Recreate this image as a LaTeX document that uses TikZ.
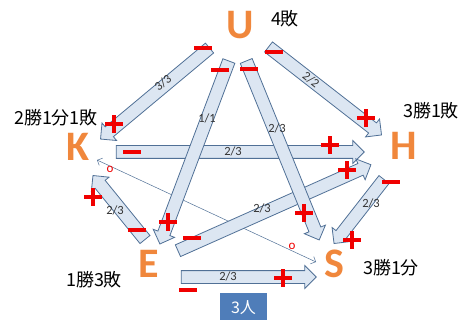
\documentclass[tikz,border=0pt]{standalone}
\usepackage{fontspec}
\setmainfont{Carlito}
\newfontfamily\jpfont{Noto Sans CJK JP}
\usetikzlibrary{shapes.arrows,calc,arrows.meta}
\definecolor{arrfill}{RGB}{220,230,242}
\definecolor{arrline}{RGB}{80,112,150}
\definecolor{letter}{RGB}{240,135,60}
\definecolor{boxblue}{RGB}{79,125,185}
\definecolor{markred}{RGB}{240,0,0}
\tikzset{
  blk/.style={single arrow, draw=arrline, fill=arrfill, line width=0.8pt,
    inner xsep=0pt, inner ysep=6pt, single arrow head extend=5pt, outer sep=0pt},
  player/.style={font=\fontsize{42}{42}\selectfont\bfseries, text=letter, inner sep=0pt},
  record/.style={font=\jpfont\fontsize{18}{18}\selectfont, inner sep=0pt},
  frac/.style={font=\fontsize{12.5}{12.5}\selectfont, text=black!80, inner sep=0pt},
  zero/.style={font=\fontsize{13}{13}\selectfont, text=markred, inner sep=0pt},
  minusmark/.pic={\fill[markred] (-9,-2) rectangle (9,2);},
  plusmark/.pic={\fill[markred] (-9,-2.4) rectangle (9,2.4); \fill[markred] (-2.4,-9) rectangle (2.4,9);}
}
\newcommand\barr[3]{%
  \path let \p1=(#2), \p2=(#3), \n1={atan2(\y2-\y1,\x2-\x1)}, \n2={veclen(\x2-\x1,\y2-\y1)} in
    node[blk, minimum height=\n2, rotate=\n1] (#1) at ($(#2)!0.5!(#3)$) {};}
\begin{document}
\begin{tikzpicture}[x=1pt,y=-1pt]
\useasboundingbox (0,0) rectangle (468,320);
% players
\node[player] (U) at (240,25) {U};
\node[player] (K) at (78,147) {K};
\node[player] (H) at (404,146) {H};
\node[player] (E) at (149,264) {E};
\node[player] (S) at (334,264) {S};
% records
\node[record] (rU) at (285,19) {4敗};
\node[record] (rK) at (56,118) {2勝1分1敗};
\node[record] (rH) at (431,111) {3勝1敗};
\node[record] (rE) at (94,280) {1勝3敗};
\node[record] (rS) at (391,268) {3勝1分};
% arrow end points
\coordinate (uk1) at (212,46);  \coordinate (uk2) at (103,137);
\coordinate (uh1) at (266,45);  \coordinate (uh2) at (379,133);
\coordinate (ue1) at (230,58);  \coordinate (ue2) at (161,241);
\coordinate (us1) at (245,58);  \coordinate (us2) at (318,237);
\coordinate (kh1) at (113,152); \coordinate (kh2) at (361,152);
\coordinate (eh1) at (175,252); \coordinate (eh2) at (368,166);
\coordinate (hs1) at (386,177); \coordinate (hs2) at (336,241);
\coordinate (ek1) at (147,242); \coordinate (ek2) at (95,178);
\coordinate (es1) at (178,277); \coordinate (es2) at (313,277);
% thin line
\coordinate (kz) at (97,160); \coordinate (sz) at (316,262);
\draw[arrline, line width=0.5pt, {Straight Barb[length=4pt]}-{Straight Barb[length=4pt]}] (kz) -- (sz);
% block arrows
\barr{KH}{kh1}{kh2}
\barr{EH}{eh1}{eh2}
\barr{UK}{uk1}{uk2}
\barr{UH}{uh1}{uh2}
\barr{UE}{ue1}{ue2}
\barr{US}{us1}{us2}
\barr{HS}{hs1}{hs2}
\barr{EK}{ek1}{ek2}
\barr{ES}{es1}{es2}
% fraction labels
\node[frac, rotate=38] (lUK) at (163,83) {3/3};
\node[frac, rotate=-38] (lUH) at (311,80) {2/2};
\node[frac] (lUE) at (207,118) {1/1};
\node[frac] (lUS) at (277,128) {2/3};
\node[frac] (lKH) at (233,151) {2/3};
\node[frac] (lEH) at (262,208) {2/3};
\node[frac] (lHS) at (371,203) {2/3};
\node[frac] (lEK) at (115,210) {2/3};
\node[frac] (lES) at (228,276) {2/3};
% zero labels
\node[zero] (oK) at (110,169) {o};
\node[zero] (oS) at (292,246) {o};
% marks
\pic at (203,48) {minusmark};  \pic at (114,124) {plusmark};
\pic at (274,52) {minusmark};  \pic at (366,118) {plusmark};
\pic at (220,70) {minusmark};  \pic at (168,222) {plusmark};
\pic at (249,69) {minusmark};  \pic at (304,213) {plusmark};
\pic at (132,152) {minusmark}; \pic at (330,145) {plusmark};
\pic at (192,238) {minusmark}; \pic at (347,170) {plusmark};
\pic at (391,182) {minusmark}; \pic at (352,240) {plusmark};
\pic at (137,230) {minusmark}; \pic at (93,197) {plusmark};
\pic at (188,290) {minusmark}; \pic at (283,278) {plusmark};
% box
\node[fill=boxblue, text=white, minimum width=47pt, minimum height=30pt, inner sep=0pt,
  font=\jpfont\fontsize{16}{16}\selectfont] (box) at (243.5,308) {3人};
\end{tikzpicture}
\end{document}
